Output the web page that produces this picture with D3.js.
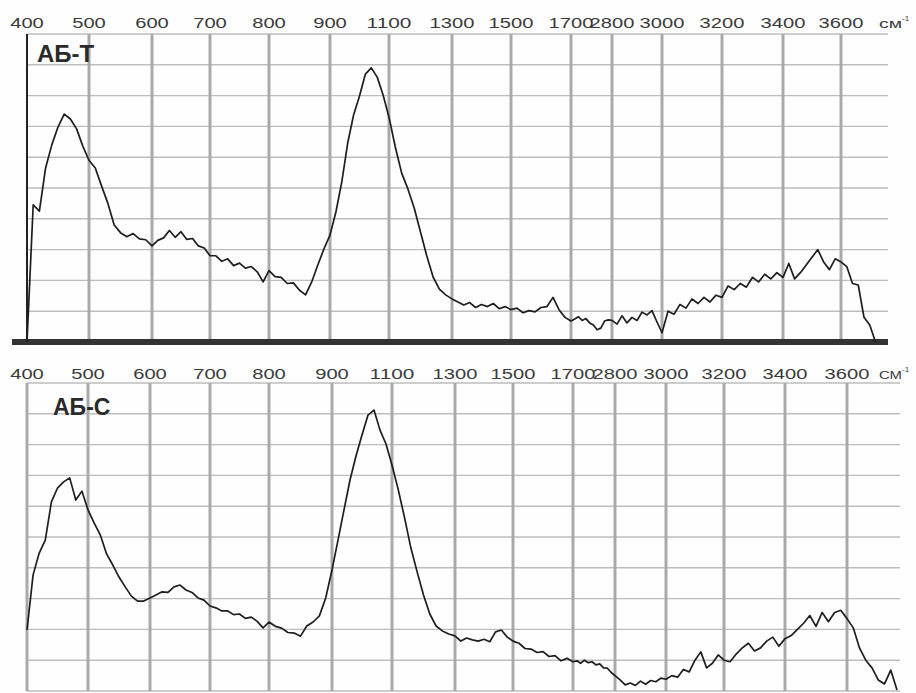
<!DOCTYPE html>
<html>
<head>
<meta charset="utf-8">
<script src="https://cdn.jsdelivr.net/npm/d3@7"></script>
<style>
  html, body { margin: 0; padding: 0; background: #fff; }
  svg { display: block; }
</style>
</head>
<body>
<div id="chart"></div>
<script>
// IR spectra of two samples, wavenumber axis broken into uneven steps.
var wavenumbers = [
  400, 410, 420, 430, 440, 450, 460, 470, 480, 490, 500,
  510, 520, 530, 540, 550, 560, 570, 580, 590, 600,
  610, 620, 630, 640, 650, 660, 670, 680, 690, 700,
  710, 720, 730, 740, 750, 760, 770, 780, 790, 800,
  810, 820, 830, 840, 850, 860, 870, 880, 890, 900,
  920, 940, 960, 980, 1000, 1020, 1040, 1060, 1080, 1100,
  1120, 1140, 1160, 1180, 1200, 1220, 1240, 1260, 1280, 1300,
  1320, 1340, 1360, 1380, 1400, 1420, 1440, 1460, 1480, 1500,
  1520, 1540, 1560, 1580, 1600, 1620, 1640, 1660, 1680, 1700,
  1800, 1900, 2000, 2100, 2200, 2300, 2400, 2500, 2600, 2700, 2800,
  2820, 2840, 2860, 2880, 2900, 2920, 2940, 2960, 2980, 3000,
  3020, 3040, 3060, 3080, 3100, 3120, 3140, 3160, 3180, 3200,
  3220, 3240, 3260, 3280, 3300, 3320, 3340, 3360, 3380, 3400,
  3420, 3440, 3460, 3480, 3500, 3520, 3540, 3560, 3580, 3600,
  3620, 3640, 3660, 3680, 3700, 3720, 3740, 3760
];

// intensity in grid divisions (0 = baseline, 10 = top of panel)
var abT = [
  0, 4.45, 4.25, 5.65, 6.4, 6.98, 7.4, 7.24, 6.92, 6.36, 5.9,
  5.65, 5.06, 4.5, 3.8, 3.55, 3.42, 3.52, 3.35, 3.32, 3.12,
  3.3, 3.38, 3.62, 3.4, 3.58, 3.33, 3.36, 3.12, 3.05, 2.8,
  2.8, 2.62, 2.7, 2.48, 2.56, 2.4, 2.45, 2.28, 1.95, 2.32,
  2.12, 2.1, 1.9, 1.92, 1.68, 1.53, 1.95, 2.5, 3.02, 3.47,
  4.22, 5.2, 6.46, 7.37, 7.99, 8.7, 8.9, 8.6, 8.02, 7.3,
  6.33, 5.49, 4.97, 4.35, 3.57, 2.79, 2.11, 1.72, 1.53, 1.4,
  1.3, 1.2, 1.28, 1.12, 1.22, 1.15, 1.25, 1.08, 1.15, 1.05,
  1.1, 0.95, 1.02, 0.98, 1.12, 1.15, 1.45, 1.05, 0.8, 0.68,
  0.75, 0.82, 0.7, 0.76, 0.62, 0.55, 0.4, 0.45, 0.68, 0.72, 0.7,
  0.58, 0.85, 0.62, 0.8, 0.7, 0.97, 0.88, 1.02, 0.65, 0.3,
  1.0, 0.9, 1.22, 1.1, 1.4, 1.25, 1.45, 1.3, 1.52, 1.45,
  1.82, 1.7, 1.9, 1.78, 2.1, 1.95, 2.2, 2.05, 2.25, 2.1,
  2.55, 2.05, 2.25, 2.5, 2.75, 3.0, 2.6, 2.35, 2.7, 2.6,
  2.45, 1.9, 1.85, 0.8, 0.55, 0, null, null
];

var abC = [
  1.98, 3.77, 4.48, 4.9, 6.14, 6.59, 6.79, 6.92, 6.2, 6.49, 5.88,
  5.45, 5.06, 4.45, 4.09, 3.7, 3.38, 3.08, 2.92, 2.92, 3.02,
  3.12, 3.22, 3.2, 3.38, 3.44, 3.28, 3.2, 3.02, 2.95, 2.76,
  2.7, 2.6, 2.6, 2.48, 2.5, 2.36, 2.4, 2.26, 2.05, 2.24,
  2.1, 2.04, 1.9, 1.88, 1.78, 2.11, 2.24, 2.44, 3.02, 3.93,
  4.9, 5.88, 6.85, 7.63, 8.31, 8.96, 9.12, 8.47, 8.02, 7.34,
  6.53, 5.62, 4.64, 3.86, 3.12, 2.5, 2.11, 1.95, 1.85, 1.79,
  1.62, 1.72, 1.66, 1.62, 1.68, 1.6, 1.92, 1.98, 1.75, 1.62,
  1.55, 1.38, 1.36, 1.25, 1.28, 1.12, 1.15, 0.98, 1.06, 0.95,
  0.98, 0.9, 1.0, 0.92, 0.95, 0.85, 0.88, 0.75, 0.74, 0.6, 0.5,
  0.36, 0.2, 0.26, 0.18, 0.32, 0.22, 0.34, 0.3, 0.42, 0.38,
  0.5, 0.45, 0.7, 0.62, 1.0, 1.27, 0.75, 0.9, 1.17, 1.0,
  0.95, 1.2, 1.4, 1.55, 1.3, 1.4, 1.62, 1.75, 1.45, 1.7,
  1.8, 2.0, 2.2, 2.45, 2.1, 2.55, 2.25, 2.55, 2.62, 2.35,
  2.05, 1.4, 1.0, 0.75, 0.36, 0.23, 0.68, 0.03
];

var tickValues = [400, 500, 600, 700, 800, 900, 1100, 1300, 1500, 1700, 2800, 3000, 3200, 3400, 3600];
var tickLabels = ["400", "500", "600", "700", "800", "900", "1100", "1300", "1500", "1700", "2800", "3000", "3200", "3400", "3600"];
var axisEnd = 3760;
var gridLevels = [0, 1, 2, 3, 4, 5, 6, 7, 8, 9, 10];
var panelTitles = ["АБ-Т", "АБ-С"];
var unitLabels = ["см", "СМ"];

(function () {
  "use strict";

  var width = 916, height = 693;
  var font = "'Liberation Sans', Arial, Helvetica, sans-serif";

  // pixel layout of each panel; the printed scales differ slightly
  var panels = [
    {
      title: panelTitles[0], unit: unitLabels[0], values: abT,
      top: 34, bottom: 342, left: 27, right: 888,
      xRange: [27, 89, 152, 210, 269, 330, 389, 452, 511, 571, 612, 662, 722, 783, 841, 887],
      labelY: 28, titleX: 37, titleY: 62, titleSize: 24, unitSize: 13, baseBar: true
    },
    {
      title: panelTitles[1], unit: unitLabels[1], values: abC,
      top: 383, bottom: 691, left: 27, right: 900,
      xRange: [27, 88, 150, 210, 269, 332, 392, 455, 513, 573, 615, 666, 724, 785, 847, 897],
      labelY: 379, titleX: 53, titleY: 415, titleSize: 23, unitSize: 11, baseBar: false
    }
  ];

  var svg = d3.select("#chart").append("svg")
    .attr("width", width)
    .attr("height", height)
    .attr("viewBox", [0, 0, width, height]);

  svg.append("rect")
    .attr("width", width)
    .attr("height", height)
    .attr("fill", "#fefefe");

  panels.forEach(function (p) {
    var x = d3.scaleLinear()
      .domain(tickValues.concat([axisEnd]))
      .range(p.xRange);
    var y = d3.scaleLinear()
      .domain([0, 10])
      .range([p.bottom, p.top]);

    var g = svg.append("g");

    // horizontal grid
    g.append("g")
      .selectAll("line")
      .data(gridLevels)
      .join("line")
      .attr("x1", p.left)
      .attr("x2", p.right)
      .attr("y1", function (d) { return y(d); })
      .attr("y2", function (d) { return y(d); })
      .attr("stroke", "#bdbdbd")
      .attr("stroke-width", 1.4);

    // vertical grid, first one is the axis
    g.append("g")
      .selectAll("line")
      .data(tickValues)
      .join("line")
      .attr("x1", function (d) { return x(d); })
      .attr("x2", function (d) { return x(d); })
      .attr("y1", y(10))
      .attr("y2", y(0))
      .attr("stroke", function (d, i) { return (i === 0 && p.baseBar) ? "#222" : "#a9a9a9"; })
      .attr("stroke-width", function (d, i) { return (i === 0 && p.baseBar) ? 2 : 3; });

    if (p.baseBar) {
      g.append("rect")
        .attr("x", 12)
        .attr("y", y(0) - 3)
        .attr("width", p.right - 12)
        .attr("height", 6)
        .attr("fill", "#333");
    }

    // tick labels above the panel
    g.append("g")
      .selectAll("text")
      .data(tickValues)
      .join("text")
      .attr("x", function (d) { return x(d); })
      .attr("y", p.labelY)
      .attr("text-anchor", "middle")
      .attr("font-family", font)
      .attr("font-size", 15.5)
      .attr("fill", "#3a3a3a")
      .attr("textLength", function (d, i) { return tickLabels[i].length * 11.2; })
      .attr("lengthAdjust", "spacingAndGlyphs")
      .text(function (d, i) { return tickLabels[i]; });

    var unit = g.append("text")
      .attr("x", 879)
      .attr("y", p.labelY)
      .attr("font-family", font)
      .attr("font-size", p.unitSize)
      .attr("fill", "#3a3a3a");
    unit.append("tspan")
      .attr("textLength", 23)
      .attr("lengthAdjust", "spacingAndGlyphs")
      .text(p.unit);
    unit.append("tspan")
      .attr("dy", -7)
      .attr("font-size", 8)
      .text("-1");

    // spectrum
    var points = wavenumbers.map(function (wn, i) { return { wn: wn, v: p.values[i] }; });
    var line = d3.line()
      .defined(function (d) { return d.v != null; })
      .x(function (d) { return x(d.wn); })
      .y(function (d) { return y(d.v); });

    g.append("path")
      .datum(points)
      .attr("fill", "none")
      .attr("stroke", "#1e1e1e")
      .attr("stroke-width", 1.7)
      .attr("stroke-linejoin", "round")
      .attr("d", line);

    g.append("text")
      .attr("x", p.titleX)
      .attr("y", p.titleY)
      .attr("font-family", font)
      .attr("font-weight", "bold")
      .attr("font-size", p.titleSize)
      .attr("fill", "#2a2a2a")
      .text(p.title);
  });
})();
</script>
</body>
</html>
